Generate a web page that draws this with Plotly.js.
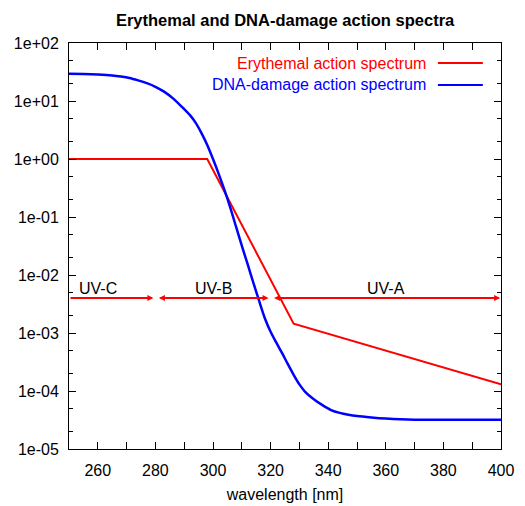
<!DOCTYPE html>
<html>
<head>
<meta charset="utf-8">
<script src="https://cdn.plot.ly/plotly-3.0.1.min.js"></script>
<style>html,body{margin:0;padding:0;background:#fff;}#chart{width:525px;height:506px;}</style>
</head>
<body>
<div id="chart"></div>
<script>
// ---- data ----
var erythemalWavelength = [250, 298, 328, 400];
var erythemalValue      = [1, 1, 1.45e-3, 1.3e-4];

var dnaWavelength = [250,255,260,265,268,271,274,277,280,283,286,289,292,294,296,298,300,302,304,306,308,310,312,314,316,318,320,322,324,326,328,330,332,335,338,341,344,347,350,355,360,365,370,380,390,400];
var dnaValue      = [29.5,29.2,28.6,27.6,26.5,25,22.7,20.3,17.6,14.5,11.2,8.1,5.7,4.2,2.8,1.75,1.0,0.55,0.29,0.145,0.068,0.032,0.0155,0.0074,0.0036,0.0018,0.00105,0.00068,0.00045,0.00029,0.00019,0.00013,0.000097,0.000072,0.000057,0.000047,0.000042,0.000039,0.000037,0.000035,0.0000335,0.0000325,0.000032,0.000032,0.000032,0.000032];

var seriesNames = ['Erythemal action spectrum', 'DNA-damage action spectrum'];
var seriesColors = ['#ff0000', '#0000ff'];

var bandNames  = ['UV-C', 'UV-B', 'UV-A'];
var bandStart  = [250, 280, 320];
var bandEnd    = [280, 320, 400];
var bandLabelX = [260, 300, 360];
var bandArrowY = 4e-3;

var xTickVals = [260, 280, 300, 320, 340, 360, 380, 400];
var xMinorVals = [250, 270, 290, 310, 330, 350, 370, 390];
var yTickVals = [1e-5, 1e-4, 1e-3, 1e-2, 1e-1, 1, 10, 100];
var yTickText = ['1e-05', '1e-04', '1e-03', '1e-02', '1e-01', '1e+00', '1e+01', '1e+02'];

// ---- build ----
var yMinor = [];
for (var d = -5; d < 2; d++) { yMinor.push(2 * Math.pow(10, d)); yMinor.push(5 * Math.pow(10, d)); }

var font = 'Liberation Sans, Arial, sans-serif';

var traces = [
  {x: erythemalWavelength, y: erythemalValue, mode: 'lines', name: seriesNames[0],
   line: {color: seriesColors[0], width: 2}},
  {x: dnaWavelength, y: dnaValue, mode: 'lines', name: seriesNames[1],
   line: {color: seriesColors[1], width: 2.5, shape: 'spline', smoothing: 0.8}}
];

var annotations = [];
var gap = 0.7;
for (var i = 0; i < bandNames.length; i++) {
  var s = bandStart[i], e = bandEnd[i];
  var first = (i === 0);
  var last = (i === bandNames.length - 1);
  annotations.push({
    x: last ? e - 0.3 : e - gap, y: Math.log10(bandArrowY), xref: 'x', yref: 'y',
    ax: first ? s : s + gap, ay: Math.log10(bandArrowY), axref: 'x', ayref: 'y',
    text: '', showarrow: true, arrowhead: 2, arrowsize: 0.6, arrowwidth: 2,
    arrowcolor: '#ff0000', arrowside: first ? 'end' : 'end+start', standoff: 0, startstandoff: 0
  });
  annotations.push({
    x: bandLabelX[i], y: Math.log10(bandArrowY), xref: 'x', yref: 'y',
    text: bandNames[i], showarrow: false, yanchor: 'bottom', xanchor: 'center',
    font: {family: font, size: 16, color: '#000'}, yshift: -1
  });
}

var legendY = [0.9507, 0.8966];
var shapes = [];
for (var k = 0; k < seriesNames.length; k++) {
  annotations.push({
    x: 0.831, y: legendY[k], xref: 'paper', yref: 'paper', xanchor: 'right', yanchor: 'middle',
    text: seriesNames[k], showarrow: false, font: {family: font, size: 16, color: seriesColors[k]}
  });
  shapes.push({type: 'line', xref: 'paper', yref: 'paper', x0: 0.854, x1: 0.958,
    y0: legendY[k], y1: legendY[k], line: {color: seriesColors[k], width: 2}});
}

var layout = {
  width: 525, height: 506,
  margin: {l: 69, r: 24, t: 43, b: 57},
  paper_bgcolor: '#fff', plot_bgcolor: '#fff',
  showlegend: false,
  font: {family: font, size: 16, color: '#000'},
  title: {text: '<b>Erythemal and DNA-damage action spectra</b>', x: 0.543, xanchor: 'center',
          y: 0.961, yanchor: 'middle', font: {family: font, size: 16.5, color: '#000'}},
  xaxis: {
    range: [250, 400], showgrid: false, zeroline: false,
    showline: true, linecolor: '#000', linewidth: 1, mirror: 'ticks',
    tickmode: 'array', tickvals: xTickVals, ticktext: xTickVals.map(String),
    ticks: 'inside', ticklen: 7, tickcolor: '#000', tickwidth: 1, ticklabelstandoff: 7,
    minor: {tickmode: 'array', tickvals: xMinorVals, ticks: 'inside', ticklen: 7, tickcolor: '#000', tickwidth: 1, showgrid: false},
    tickfont: {family: font, size: 16, color: '#000'},
    title: {text: 'wavelength [nm]', font: {family: font, size: 16, color: '#000'}, standoff: 10}
  },
  yaxis: {
    type: 'log', range: [-5, 2], showgrid: false, zeroline: false,
    showline: true, linecolor: '#000', linewidth: 1, mirror: 'ticks',
    tickmode: 'array', tickvals: yTickVals, ticktext: yTickText,
    ticks: 'inside', ticklen: 7, tickcolor: '#000', tickwidth: 1, ticklabelstandoff: 6,
    minor: {tickmode: 'array', tickvals: yMinor, ticks: 'inside', ticklen: 4, tickcolor: '#000', tickwidth: 1, showgrid: false},
    tickfont: {family: font, size: 16, color: '#000'}
  },
  annotations: annotations,
  shapes: shapes
};

Plotly.newPlot('chart', traces, layout, {staticPlot: true, displayModeBar: false});
</script>
</body>
</html>
